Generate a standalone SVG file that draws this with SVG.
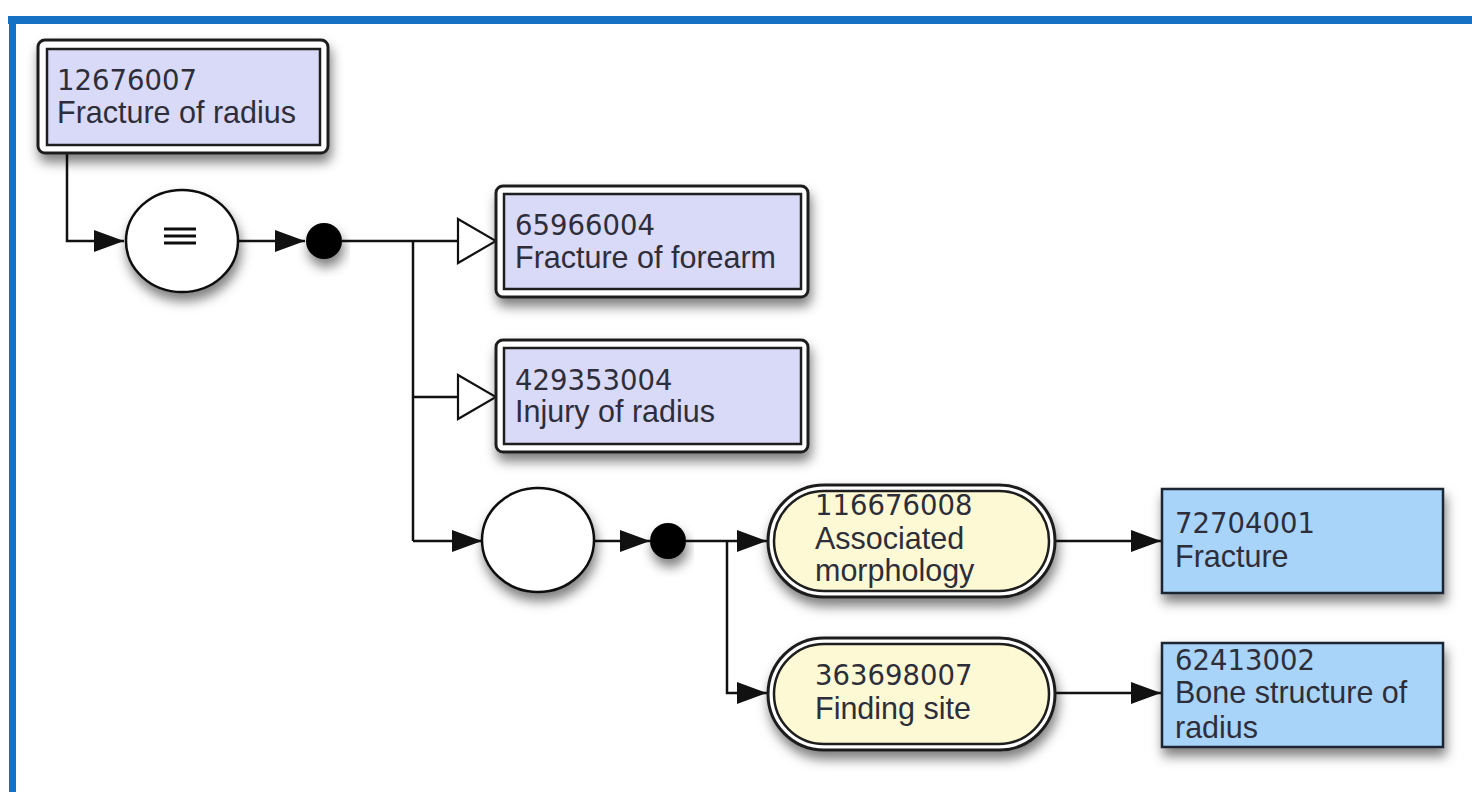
<svg xmlns="http://www.w3.org/2000/svg" width="1472" height="792" viewBox="0 0 1472 792">
  <style>
    .code { font-family: "DejaVu Sans", Verdana, sans-serif; font-size: 27.5px; fill: #2e2e3a; }
    .name { font-family: "Liberation Sans", Arial, sans-serif; font-size: 30.5px; fill: #2e2e3a; }
    .outer { fill: #ffffff; stroke: #1e1e1e; stroke-width: 3; }
    .inner { fill: #d9d9f8; stroke: #1e1e1e; stroke-width: 2.5; }
    .pill-in { fill: #fcf9d4; stroke: #1e1e1e; stroke-width: 2.5; }
    .value { fill: #a9d4f9; stroke: #1a2530; stroke-width: 2.5; }
    .op { fill: #ffffff; stroke: #111111; stroke-width: 2.5; }
    .link { fill: none; stroke: #111111; stroke-width: 2.5; }
  </style>
  <defs>
    <filter id="shadow" x="-20%" y="-20%" width="140%" height="170%">
      <feDropShadow dx="2" dy="8" stdDeviation="6" flood-color="#000000" flood-opacity="0.5"/>
    </filter>
    <marker id="solid" markerUnits="userSpaceOnUse" viewBox="0 0 30 22" refX="30" refY="11" markerWidth="30" markerHeight="22" orient="auto">
      <path d="M0,0 L30,11 L0,22 Z" fill="#111111"/>
    </marker>
    <marker id="hollow" markerUnits="userSpaceOnUse" viewBox="-2 -2 42 48" refX="38" refY="22" markerWidth="42" markerHeight="48" orient="auto">
      <path d="M0,0 L38,22 L0,44 Z" fill="#ffffff" stroke="#111111" stroke-width="2.2"/>
    </marker>
  </defs>

  <!-- frame -->
  <rect x="8" y="16" width="1464" height="8" fill="#1670c3"/>
  <rect x="9" y="16" width="7" height="776" fill="#1670c3"/>

  <!-- connectors -->
  <g id="connectors">
    <path class="link" d="M67,153 V241 H124" marker-end="url(#solid)"/>
    <path class="link" d="M238,241 H305" marker-end="url(#solid)"/>
    <path class="link" d="M342,241 H496" marker-end="url(#hollow)"/>
    <path class="link" d="M413,241 V541"/>
    <path class="link" d="M413,397 H496" marker-end="url(#hollow)"/>
    <path class="link" d="M413,541 H482" marker-end="url(#solid)"/>
    <path class="link" d="M594,541 H650" marker-end="url(#solid)"/>
    <path class="link" d="M686,541 H767" marker-end="url(#solid)"/>
    <path class="link" d="M727,541 V693 H767" marker-end="url(#solid)"/>
    <path class="link" d="M1055,541 H1161" marker-end="url(#solid)"/>
    <path class="link" d="M1055,693 H1161" marker-end="url(#solid)"/>
  </g>

  <!-- operators -->
  <g id="equivalence" filter="url(#shadow)">
    <ellipse class="op" cx="182" cy="241" rx="56" ry="51"/>
    <path d="M164,229 H196 M164,236 H196 M164,243 H196" stroke="#111111" stroke-width="3"/>
  </g>
  <g id="conjunction1" filter="url(#shadow)">
    <circle cx="324" cy="241" r="18" fill="#000000"/>
  </g>
  <g id="group" filter="url(#shadow)">
    <ellipse class="op" cx="538" cy="540" rx="56" ry="52"/>
  </g>
  <g id="conjunction2" filter="url(#shadow)">
    <circle cx="668" cy="541" r="18" fill="#000000"/>
  </g>

  <!-- concepts -->
  <g id="n12676007">
    <rect class="outer" x="38" y="40" width="290" height="113" rx="7" filter="url(#shadow)"/>
    <rect class="inner" x="47" y="49" width="273" height="96"/>
    <text class="code" x="57" y="90">12676007</text>
    <text class="name" x="57" y="123">Fracture of radius</text>
  </g>
  <g id="n65966004">
    <rect class="outer" x="496" y="186" width="312" height="111" rx="7" filter="url(#shadow)"/>
    <rect class="inner" x="504" y="194" width="297" height="95"/>
    <text class="code" x="515" y="235">65966004</text>
    <text class="name" x="515" y="268">Fracture of forearm</text>
  </g>
  <g id="n429353004">
    <rect class="outer" x="496" y="340" width="312" height="112" rx="7" filter="url(#shadow)"/>
    <rect class="inner" x="504" y="348" width="297" height="96"/>
    <text class="code" x="515" y="390">429353004</text>
    <text class="name" x="515" y="422">Injury of radius</text>
  </g>

  <!-- attributes -->
  <g id="n116676008">
    <rect class="outer" x="768" y="485" width="287" height="112" rx="56" filter="url(#shadow)"/>
    <rect class="pill-in" x="774" y="491" width="275" height="100" rx="50"/>
    <text class="code" x="815" y="515">116676008</text>
    <text class="name" x="815" y="549">Associated</text>
    <text class="name" x="815" y="581">morphology</text>
  </g>
  <g id="n363698007">
    <rect class="outer" x="768" y="638" width="287" height="112" rx="56" filter="url(#shadow)"/>
    <rect class="pill-in" x="774" y="644" width="275" height="100" rx="50"/>
    <text class="code" x="815" y="685">363698007</text>
    <text class="name" x="815" y="719">Finding site</text>
  </g>

  <!-- values -->
  <g id="n72704001">
    <rect class="value" x="1162" y="489" width="281" height="104" filter="url(#shadow)"/>
    <text class="code" x="1175" y="533">72704001</text>
    <text class="name" x="1175" y="567">Fracture</text>
  </g>
  <g id="n62413002">
    <rect class="value" x="1162" y="643" width="281" height="104" filter="url(#shadow)"/>
    <text class="code" x="1175" y="670">62413002</text>
    <text class="name" x="1175" y="703">Bone structure of</text>
    <text class="name" x="1175" y="738">radius</text>
  </g>
</svg>
